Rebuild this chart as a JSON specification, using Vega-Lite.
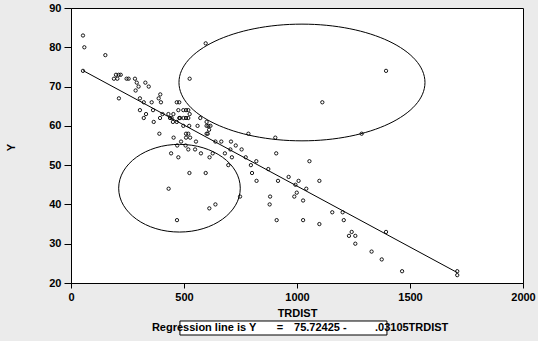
{
  "$schema": "https://vega.github.io/schema/vega-lite/v6.json",
  "width": 452,
  "height": 275,
  "autosize": "none",
  "padding": {"left": 71, "top": 8, "right": 15, "bottom": 58},
  "background": "#ebebeb",
  "config": {
    "view": {"fill": "white", "stroke": "black", "strokeWidth": 1},
    "font": "Liberation Sans"
  },
  "datasets": {
    "obs": [
      {"TRDIST":53,"Y":83},{"TRDIST":59,"Y":80},{"TRDIST":53,"Y":74},{"TRDIST":152,"Y":78},{"TRDIST":190,"Y":72},{"TRDIST":205,"Y":72},{"TRDIST":199,"Y":73},{"TRDIST":211,"Y":73},{"TRDIST":220,"Y":73},{"TRDIST":212,"Y":67},{"TRDIST":246,"Y":72},{"TRDIST":255,"Y":72},{"TRDIST":283,"Y":72},{"TRDIST":291,"Y":71},{"TRDIST":299,"Y":70},{"TRDIST":286,"Y":69},{"TRDIST":329,"Y":71},{"TRDIST":344,"Y":70},{"TRDIST":305,"Y":67},{"TRDIST":322,"Y":66},{"TRDIST":305,"Y":64},{"TRDIST":322,"Y":62},{"TRDIST":332,"Y":63},{"TRDIST":357,"Y":66},{"TRDIST":363,"Y":64},{"TRDIST":366,"Y":61},{"TRDIST":388,"Y":67},{"TRDIST":395,"Y":68},{"TRDIST":398,"Y":66},{"TRDIST":391,"Y":58},{"TRDIST":394,"Y":62},{"TRDIST":405,"Y":63},{"TRDIST":431,"Y":63},{"TRDIST":438,"Y":62},{"TRDIST":453,"Y":63},{"TRDIST":445,"Y":62},{"TRDIST":468,"Y":61},{"TRDIST":451,"Y":61},{"TRDIST":468,"Y":66},{"TRDIST":479,"Y":66},{"TRDIST":475,"Y":64},{"TRDIST":497,"Y":60},{"TRDIST":497,"Y":64},{"TRDIST":509,"Y":64},{"TRDIST":519,"Y":64},{"TRDIST":509,"Y":62},{"TRDIST":519,"Y":62},{"TRDIST":525,"Y":63},{"TRDIST":479,"Y":62},{"TRDIST":483,"Y":62},{"TRDIST":498,"Y":62},{"TRDIST":525,"Y":72},{"TRDIST":523,"Y":60},{"TRDIST":454,"Y":57},{"TRDIST":470,"Y":55},{"TRDIST":487,"Y":56},{"TRDIST":509,"Y":58},{"TRDIST":509,"Y":57},{"TRDIST":519,"Y":58},{"TRDIST":527,"Y":57},{"TRDIST":507,"Y":55},{"TRDIST":519,"Y":54},{"TRDIST":443,"Y":53},{"TRDIST":475,"Y":52},{"TRDIST":553,"Y":56},{"TRDIST":549,"Y":54},{"TRDIST":560,"Y":60},{"TRDIST":572,"Y":62},{"TRDIST":575,"Y":53},{"TRDIST":596,"Y":81},{"TRDIST":600,"Y":61},{"TRDIST":600,"Y":60},{"TRDIST":608,"Y":60},{"TRDIST":617,"Y":60},{"TRDIST":611,"Y":59},{"TRDIST":605,"Y":58},{"TRDIST":600,"Y":58},{"TRDIST":639,"Y":56},{"TRDIST":665,"Y":56},{"TRDIST":708,"Y":56},{"TRDIST":627,"Y":53},{"TRDIST":613,"Y":52},{"TRDIST":681,"Y":53},{"TRDIST":712,"Y":52},{"TRDIST":729,"Y":55},{"TRDIST":705,"Y":54},{"TRDIST":755,"Y":54},{"TRDIST":773,"Y":52},{"TRDIST":785,"Y":58},{"TRDIST":796,"Y":50},{"TRDIST":820,"Y":51},{"TRDIST":873,"Y":49},{"TRDIST":904,"Y":57},{"TRDIST":908,"Y":53},{"TRDIST":696,"Y":50},{"TRDIST":432,"Y":44},{"TRDIST":469,"Y":36},{"TRDIST":524,"Y":48},{"TRDIST":596,"Y":48},{"TRDIST":612,"Y":39},{"TRDIST":639,"Y":40},{"TRDIST":748,"Y":42},{"TRDIST":801,"Y":48},{"TRDIST":821,"Y":46},{"TRDIST":916,"Y":46},{"TRDIST":963,"Y":47},{"TRDIST":993,"Y":45},{"TRDIST":999,"Y":43},{"TRDIST":988,"Y":42},{"TRDIST":1007,"Y":46},{"TRDIST":881,"Y":42},{"TRDIST":879,"Y":40},{"TRDIST":910,"Y":36},{"TRDIST":1394,"Y":74},{"TRDIST":1112,"Y":66},{"TRDIST":1286,"Y":58},{"TRDIST":1055,"Y":51},{"TRDIST":1099,"Y":46},{"TRDIST":1041,"Y":44},{"TRDIST":1027,"Y":41},{"TRDIST":1027,"Y":36},{"TRDIST":1099,"Y":35},{"TRDIST":1156,"Y":38},{"TRDIST":1202,"Y":38},{"TRDIST":1207,"Y":36},{"TRDIST":1242,"Y":33},{"TRDIST":1230,"Y":32},{"TRDIST":1258,"Y":32},{"TRDIST":1258,"Y":30},{"TRDIST":1330,"Y":28},{"TRDIST":1375,"Y":26},{"TRDIST":1394,"Y":33},{"TRDIST":1465,"Y":23},{"TRDIST":1709,"Y":23},{"TRDIST":1709,"Y":22}
    ],
    "one": [{"id": 1}]
  },
  "resolve": {"axis": {"x": "independent", "y": "independent"}},
  "layer": [
    {
      "data": {"name": "obs"},
      "mark": {"type": "point", "shape": "circle", "filled": false, "stroke": "black", "strokeWidth": 0.9, "size": 11, "opacity": 1},
      "encoding": {
        "x": {
          "field": "TRDIST", "type": "quantitative",
          "scale": {"domain": [0, 2000], "nice": false, "zero": false},
          "axis": {
            "orient": "bottom", "values": [0, 500, 1000, 1500, 2000], "format": "d", "tickSize": 5, "tickColor": "black",
            "domainColor": "black", "labelColor": "black", "labelFontSize": 11, "labelFontWeight": "bold",
            "labelPadding": 3, "labelFlush": false, "labelOverlap": false, "grid": false,
            "title": "TRDIST", "titleFontSize": 11, "titleFontWeight": "bold", "titleColor": "black", "titlePadding": 5
          }
        },
        "y": {
          "field": "Y", "type": "quantitative",
          "scale": {"domain": [20, 90], "nice": false, "zero": false},
          "axis": {
            "orient": "left", "values": [20, 30, 40, 50, 60, 70, 80, 90], "tickSize": 7, "tickColor": "black",
            "domainColor": "black", "labelColor": "black", "labelFontSize": 11, "labelFontWeight": "bold",
            "labelPadding": 3, "labelFlush": false, "labelOverlap": false, "grid": false,
            "title": "Y", "titleFontSize": 11, "titleFontWeight": "bold", "titleColor": "black",
            "titleX": -60, "titleY": 139, "titleAngle": 270, "titleAlign": "center", "titleBaseline": "middle"
          }
        }
      }
    },
    {
      "data": {"name": "one"},
      "mark": {"type": "rule", "color": "black", "strokeWidth": 1},
      "encoding": {
        "x": {"datum": 53, "type": "quantitative", "axis": null},
        "y": {"datum": 74.08, "type": "quantitative", "axis": null},
        "x2": {"datum": 1709},
        "y2": {"datum": 22.66}
      }
    },
    {
      "data": {"name": "one"},
      "mark": {"type": "point", "filled": false, "stroke": "black", "strokeWidth": 1, "opacity": 1, "size": 60516,
        "shape": "M1,0C1,0.262,0.5523,0.4744,0,0.4744C-0.5523,0.4744,-1,0.262,-1,0C-1,-0.262,-0.5523,-0.4744,0,-0.4744C0.5523,-0.4744,1,-0.262,1,0Z"},
      "encoding": {
        "x": {"datum": 1022, "type": "quantitative", "axis": null},
        "y": {"datum": 71.04, "type": "quantitative", "axis": null}
      }
    },
    {
      "data": {"name": "one"},
      "mark": {"type": "point", "filled": false, "stroke": "black", "strokeWidth": 1, "opacity": 1, "size": 14787,
        "shape": "M1,0C1,0.3983,0.5523,0.7212,0,0.7212C-0.5523,0.7212,-1,0.3983,-1,0C-1,-0.3983,-0.5523,-0.7212,0,-0.7212C0.5523,-0.7212,1,-0.3983,1,0Z"},
      "encoding": {
        "x": {"datum": 480, "type": "quantitative", "axis": null},
        "y": {"datum": 44.13, "type": "quantitative", "axis": null}
      }
    },
    {
      "data": {"name": "one"},
      "mark": {"type": "rect", "fill": "white", "stroke": "black", "strokeWidth": 1},
      "encoding": {
        "x": {"datum": 482, "type": "quantitative", "axis": null},
        "x2": {"datum": 1398},
        "y": {"datum": 10.33, "type": "quantitative", "axis": null},
        "y2": {"datum": 6.76}
      }
    },
    {
      "data": {"name": "one"},
      "mark": {"type": "text", "align": "left", "baseline": "middle", "fontSize": 11, "fontWeight": "bold", "color": "black", "text": "Regression line is Y"},
      "encoding": {
        "x": {"datum": 358, "type": "quantitative", "axis": null},
        "y": {"datum": 8.55, "type": "quantitative", "axis": null}
      }
    },
    {
      "data": {"name": "one"},
      "mark": {"type": "text", "align": "center", "baseline": "middle", "fontSize": 11, "fontWeight": "bold", "color": "black", "text": "="},
      "encoding": {
        "x": {"datum": 925, "type": "quantitative", "axis": null},
        "y": {"datum": 8.55, "type": "quantitative", "axis": null}
      }
    },
    {
      "data": {"name": "one"},
      "mark": {"type": "text", "align": "left", "baseline": "middle", "fontSize": 11, "fontWeight": "bold", "color": "black", "text": "75.72425 -"},
      "encoding": {
        "x": {"datum": 987, "type": "quantitative", "axis": null},
        "y": {"datum": 8.55, "type": "quantitative", "axis": null}
      }
    },
    {
      "data": {"name": "one"},
      "mark": {"type": "text", "align": "left", "baseline": "middle", "fontSize": 11, "fontWeight": "bold", "color": "black", "text": ".03105TRDIST"},
      "encoding": {
        "x": {"datum": 1345, "type": "quantitative", "axis": null},
        "y": {"datum": 8.55, "type": "quantitative", "axis": null}
      }
    }
  ]
}
